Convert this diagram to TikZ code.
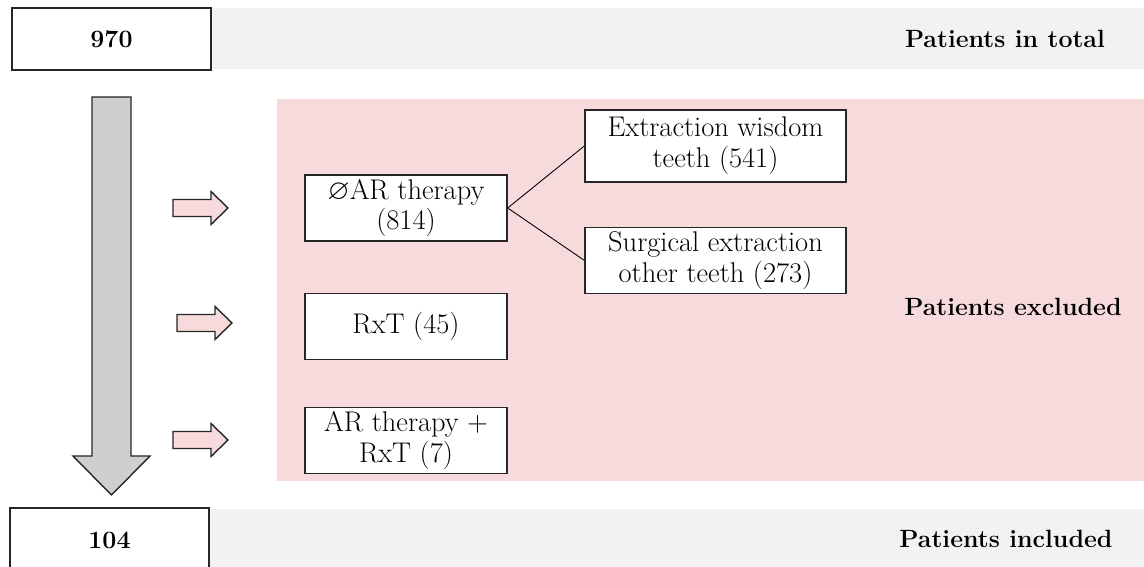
\documentclass[tikz,border=0pt]{standalone}
\usepackage{fontspec}
\usepackage{amssymb}
\usetikzlibrary{positioning}
\definecolor{bandgray}{RGB}{242,242,242}
\definecolor{excludepink}{RGB}{247,218,219}
\definecolor{flowgray}{RGB}{208,206,206}

\begin{document}
\begin{tikzpicture}[x=0.02cm, y=-0.02cm, node distance=0.88cm]
    \tikzstyle{stage}=[draw=black!85, line width=0.8pt, fill=white, font=\fontsize{14.2}{16}\selectfont\bfseries, minimum width=3.98cm, minimum height=1.24cm, inner sep=0pt]
    \tikzstyle{reason}=[draw=black!85, line width=0.8pt, fill=white, align=center, font=\fontsize{16.2}{17.5}\selectfont, minimum width=4.04cm, minimum height=1.32cm, inner sep=1pt]
    \tikzstyle{subreason}=[reason, minimum width=5.22cm]
    \tikzstyle{caption}=[font=\fontsize{14.2}{16}\selectfont\bfseries]
    \tikzstyle{flow arrow}=[draw=black!85, line width=0.8pt, fill=flowgray]
    \tikzstyle{exclude arrow}=[draw=black!85, line width=0.8pt, fill=excludepink]

    \useasboundingbox (0,0) rectangle (1144,567);
    \clip (0,0) rectangle (1144,567);

    % Bands at top and bottom, excluded area
    \fill[bandgray] (211,8) rectangle (1144,69);
    \fill[bandgray] (209,509) rectangle (1144,567);
    \fill[excludepink] (277,99) rectangle (1144,481);

    % Totals
    \node[stage] (total) at (111.5,39) {970};
    \node[stage, minimum height=1.28cm] (incl) at (109.5,540) {104};

    % Annotate the bands
    \node[caption] (total-lbl) at (1005,39) {Patients in total};
    \node[caption] (excl-lbl) at (1013,307) {Patients excluded};
    \node[caption] (incl-lbl) at (1006,539) {Patients included};

    % Draw the big flow arrow
    \draw[flow arrow] (92,97) -- (131,97) -- (131,456) -- (150,456) -- (111.5,495) -- (73,456) -- (92,456) -- cycle;

    % Reasons for exclusion
    \node[reason] (noar) at (406,208) {$\varnothing$AR therapy\\(814)};
    \node[reason, below=1.02cm of noar] (rxt) {RxT (45)};
    \node[reason, below=0.94cm of rxt] (arrxt) {AR therapy +\\RxT (7)};
    \node[subreason, minimum height=1.44cm] (wisdom) at (715.5,146) {Extraction wisdom\\teeth (541)};
    \node[subreason, below=of wisdom] (surgical) {Surgical extraction\\other teeth (273)};

    % Split the first reason
    \draw[line width=0.5pt] (noar.east) -- (wisdom.west);
    \draw[line width=0.5pt] (noar.east) -- (surgical.west);

    % Small arrows into the excluded area
    \foreach \x/\y in {173/208, 177/323, 173/440}
        \draw[exclude arrow] (\x,\y) ++(0,-8.5) -- ++(38,0) -- ++(0,-8) -- ++(17,16.5) -- ++(-17,16.5) -- ++(0,-8) -- ++(-38,0) -- cycle;
\end{tikzpicture}
\end{document}
